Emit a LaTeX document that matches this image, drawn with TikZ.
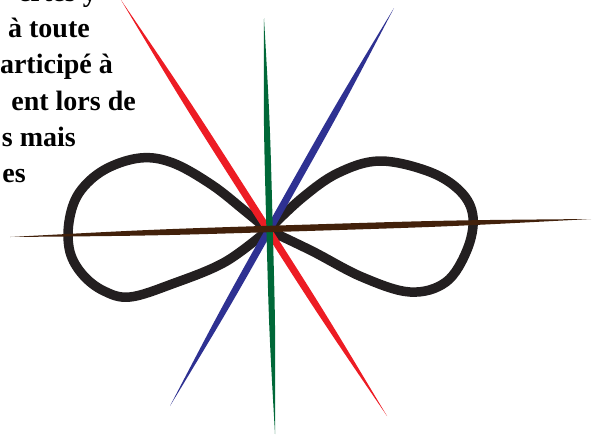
\documentclass[tikz,border=0pt]{standalone}
\usepackage{fontspec}
\setmainfont{Liberation Serif}
\usetikzlibrary{calc}
\definecolor{cred}{HTML}{ED1C24}
\definecolor{cblue}{HTML}{2E3192}
\definecolor{cgreen}{HTML}{006838}
\definecolor{cbrown}{HTML}{42210B}
\definecolor{cblack}{HTML}{231F20}
\newcommand\myspindle[4]{\fill[#1] (#2) .. controls ($(#2)!0.25!(#3)!#4!90:(#3)$) .. ($(#2)!0.5!(#3)!#4!90:(#3)$) .. controls ($(#2)!0.75!(#3)!#4!90:(#3)$) .. (#3) .. controls ($(#3)!0.25!(#2)!#4!90:(#2)$) .. ($(#3)!0.5!(#2)!#4!90:(#2)$) .. controls ($(#3)!0.75!(#2)!#4!90:(#2)$) .. (#2) -- cycle;}
\tikzset{
  txt/.style={anchor=base east, inner sep=0pt, font=\bfseries\fontsize{28}{32}\selectfont, text=black},
  loop8/.style={draw=cblack, line width=9.5pt, line join=round, line cap=round}
}
\begin{document}
\begin{tikzpicture}[x=1pt,y=-1pt]
\useasboundingbox (0,0) rectangle (599,434);
\clip (0,0) rectangle (599,434);
% text
\node[txt] (t0) at (97,1) {ertes y};
\node[txt] (t1) at (90,37) {à toute};
\node[txt] (t2) at (113,73) {articipé à};
\node[txt] (t3) at (136,110) {ent lors de};
\node[txt] (t4) at (76,146) {s mais};
\node[txt] (t5) at (26,182) {es};
% figure eight
\draw[loop8] plot[smooth, tension=0.6] coordinates {(268,230) (245,211) (212,185) (173,163) (140,158) (104,170) (79,193) (69,222) (70,252) (83,275) (104,291) (130,297) (172,284) (225,262) (268,230)};
\draw[loop8] plot[smooth, tension=0.6] coordinates {(268,230) (302,198) (338,173) (380,161) (430,172) (461,192) (473,217) (467,250) (446,282) (410,292) (362,277) (312,251) (268,230)};
% spindles
\coordinate (r1) at (121,0);
\coordinate (r2) at (387,416);
\coordinate (b1) at (394,8);
\coordinate (b2) at (170,406);
\coordinate (g1) at (264,18);
\coordinate (g2) at (275,434);
\coordinate (w1) at (10,237);
\coordinate (w2) at (591,219);
\myspindle{cred}{r1}{r2}{3.6pt}
\myspindle{cblue}{b1}{b2}{3.6pt}
\myspindle{cgreen}{g1}{g2}{3.2pt}
\myspindle{cbrown}{w1}{w2}{3.2pt}
\end{tikzpicture}
\end{document}
